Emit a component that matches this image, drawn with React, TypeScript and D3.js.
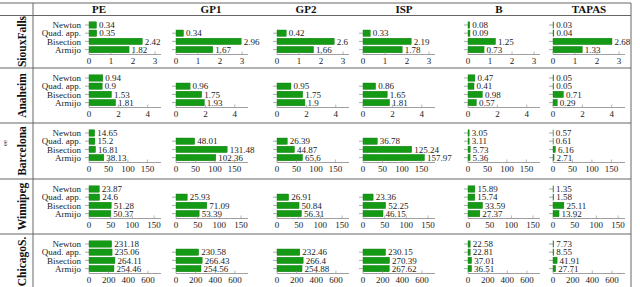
import React from 'react';
import * as d3 from 'd3';

const methods = ['Newton', 'Quad. app.', 'Bisection', 'Armijo'];
const algorithms = ['PE', 'GP1', 'GP2', 'ISP', 'B', 'TAPAS'];
const networks = ['SiouxFalls', 'Anaheim', 'Barcelona', 'Winnipeg', 'ChicagoS.'];

// seconds per method, one inner array per algorithm (null = not run)
const siouxFalls = [
  [0.34, 0.35, 2.42, 1.82],
  [null, 0.34, 2.96, 1.67],
  [null, 0.42, 2.6, 1.66],
  [null, 0.33, 2.19, 1.78],
  [0.08, 0.09, 1.25, 0.73],
  [0.03, 0.04, 2.68, 1.33],
];
const anaheim = [
  [0.94, 0.9, 1.53, 1.81],
  [null, 0.96, 1.75, 1.93],
  [null, 0.95, 1.75, 1.9],
  [null, 0.86, 1.65, 1.81],
  [0.47, 0.41, 0.98, 0.57],
  [0.05, 0.05, 0.71, 0.29],
];
const barcelona = [
  [14.65, 15.2, 16.81, 38.13],
  [null, 48.01, 131.48, 102.36],
  [null, 26.39, 44.87, 65.6],
  [null, 36.78, 125.24, 157.97],
  [3.05, 3.11, 5.73, 5.36],
  [0.57, 0.61, 6.16, 2.71],
];
const winnipeg = [
  [23.87, 24.6, 51.28, 50.37],
  [null, 25.93, 71.09, 53.39],
  [null, 26.91, 50.84, 56.31],
  [null, 23.36, 52.25, 46.15],
  [15.89, 15.74, 33.59, 27.37],
  [1.35, 1.58, 25.11, 13.92],
];
const chicagoS = [
  [231.18, 235.06, 264.11, 254.46],
  [null, 230.58, 266.43, 254.56],
  [null, 232.46, 266.4, 254.88],
  [null, 230.15, 270.39, 267.62],
  [22.58, 22.81, 37.01, 36.51],
  [7.73, 8.55, 41.91, 27.71],
];
const rowValues = [siouxFalls, anaheim, barcelona, winnipeg, chicagoS];

const rowTicks = [
  [0, 1, 2, 3],
  [0, 2, 4],
  [0, 50, 100, 150],
  [0, 50, 100, 150],
  [0, 200, 400, 600],
];
const rowMax = [3.27, 4.9, 185, 166, 733];

const W = 640;
const H = 287;
const rowTops = [15, 68, 123, 179, 234];
const colX = [89, 176, 277, 363, 468, 553];
const headerX = [99, 211, 306, 404, 499, 589];
const axisLen = 72;
const font = '"Liberation Serif", "DejaVu Serif", serif';
const green = '#159a15';
const grey = '#888';

function Panel({ x0, top, values, ticks, max, showLabels }) {
  const x = d3.scaleLinear().domain([0, max]).range([x0, x0 + axisLen]);
  const y = d3.scalePoint().domain(methods).range([top + 10, top + 34.6]);
  const barH = 6.4;
  const axisY = top + 39.5;
  return (
    <g>
      {methods.map((m, i) => {
        const v = values[i];
        if (v == null) return null;
        const cy = y(m);
        return (
          <g key={m}>
            <line x1={x0 - 4} x2={x0} y1={cy} y2={cy} stroke={grey} strokeWidth={0.7} />
            <rect x={x(0)} y={cy - barH / 2} width={x(v) - x(0)} height={barH}
              fill={green} stroke="#0f7a0f" strokeWidth={0.4} />
            <text x={x(v) + 2.5} y={cy + 3.2} fontSize={9} fontFamily={font} fill="#222">{v}</text>
            {showLabels && (
              <text x={x0 - 8} y={cy + 3.2} fontSize={9} fontFamily={font} textAnchor="end" fill="#222">{m}</text>
            )}
          </g>
        );
      })}
      <line x1={x0} x2={x0 + axisLen} y1={axisY} y2={axisY} stroke={grey} strokeWidth={0.8} />
      {ticks.map((t) => (
        <g key={t}>
          <line x1={x(t)} x2={x(t)} y1={axisY} y2={axisY - 3} stroke={grey} strokeWidth={0.6} />
          <text x={x(t)} y={axisY + 9.5} fontSize={9} fontFamily={font} textAnchor="middle" fill="#222">{t}</text>
        </g>
      ))}
    </g>
  );
}

export default function App() {
  const rowBottoms = [...rowTops.slice(1), H + 2];
  return (
    <svg width={W} height={H} style={{ position: 'absolute', left: 0, top: 0, background: '#fff' }}>
      {/* table frame */}
      <line x1={0} x2={631} y1={3} y2={3} stroke="#666" strokeWidth={1} />
      <line x1={0} x2={631} y1={15.5} y2={15.5} stroke="#666" strokeWidth={1} />
      {rowTops.slice(1).map((t) => (
        <line key={t} x1={0} x2={631} y1={t} y2={t} stroke="#999" strokeWidth={1.4} />
      ))}
      <line x1={33} x2={33} y1={3} y2={H} stroke="#666" strokeWidth={1} />
      <line x1={631} x2={631} y1={3} y2={H} stroke="#666" strokeWidth={1} />

      {algorithms.map((a, j) => (
        <text key={a} x={headerX[j]} y={12.5} fontSize={11} fontWeight="bold" fontFamily={font}
          textAnchor="middle" fill="#111">{a}</text>
      ))}

      {networks.map((n, r) => {
        const cy = (rowTops[r] + rowBottoms[r]) / 2;
        return (
          <text key={n} transform={`translate(26,${cy}) rotate(-90)`} fontSize={11.5} fontWeight="bold"
            fontFamily={font} textAnchor="middle" fill="#111">{n}</text>
        );
      })}

      <text transform="translate(7,143) rotate(-90)" fontSize={7} fontFamily={font}
        textAnchor="middle" fill="#444">ee</text>

      {rowValues.map((rowVals, r) =>
        algorithms.map((a, j) => (
          <Panel key={`${r}-${a}`} x0={colX[j]} top={rowTops[r]} values={rowVals[j]}
            ticks={rowTicks[r]} max={rowMax[r]} showLabels={j === 0} />
        ))
      )}
    </svg>
  );
}
